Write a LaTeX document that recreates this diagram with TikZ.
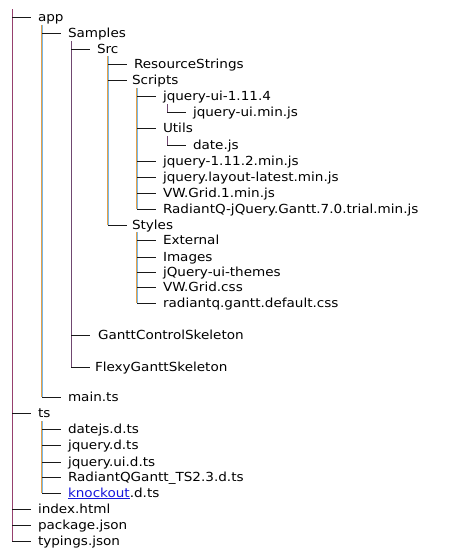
\documentclass[tikz,border=0pt]{standalone}
\usepackage{fontspec}
\setmainfont{DejaVu Sans}[FakeStretch=1.085]
\usetikzlibrary{positioning}

\definecolor{treemaroon}{RGB}{150,64,110}
\definecolor{treeplum}{RGB}{112,72,112}
\definecolor{treeorange}{RGB}{228,160,72}
\definecolor{treeblue}{RGB}{120,184,232}
\definecolor{linkblue}{RGB}{24,24,220}

\begin{document}
\begin{tikzpicture}[x=1pt,y=-1pt,
	entry/.style={anchor=west,inner xsep=7pt,inner ysep=0pt,outer sep=0pt,text height=10pt,text depth=2pt,font=\fontsize{12.5}{15}\selectfont},
	hline/.style={draw=black!90,line width=1pt},
	vmaroon/.style={draw=treemaroon,line width=1pt},
	vplum/.style={draw=treeplum,line width=1pt},
	vsplit/.style={preaction={draw=treeorange,line width=1pt,transform canvas={xshift=-0.5pt}},postaction={draw=treeblue,line width=1pt,transform canvas={xshift=0.5pt}}}]
	\path [fill=white] (0,0) rectangle (468,560);

	% columns of the tree
	\coordinate (root_col) at (12,9);
	\coordinate (app_col) at (42,25);
	\coordinate (samples_col) at (71,41);
	\coordinate (src_col) at (108,56);
	\coordinate (scripts_col) at (137,88);
	\coordinate (jqueryui_col) at (167,104);
	\coordinate (utils_col) at (167,136);
	\coordinate (styles_col) at (137,232);
	\coordinate (ts_col) at (42,421);

	\node [entry] at (31,17) (app) {app};
	\node [entry] at (61,33) (samples) {Samples};
	\node [entry] at (90,49) (src) {Src};
	\node [entry] at (127,64) (resstrings) {ResourceStrings};
	\node [entry,inner xsep=5pt] at (127,80) (scripts) {Scripts};
	\node [entry] at (156,96) (jqueryui) {jquery-ui-1.11.4};
	\node [entry] at (186,112) (jqueryuimin) {jquery-ui.min.js};
	\node [entry] at (156,128) (utils) {Utils};
	\node [entry] at (186,145) (datejs) {date.js};
	\node [entry] at (156,161) (jquerymin) {jquery-1.11.2.min.js};
	\node [entry] at (156,177) (jquerylayout) {jquery.layout-latest.min.js};
	\node [entry] at (156,193) (vwgridjs) {VW.Grid.1.min.js};
	\node [entry] at (156,209) (radiantqjs) {RadiantQ-jQuery.Gantt.7.0.trial.min.js};
	\node [entry,inner xsep=5pt] at (127,225) (styles) {Styles};
	\node [entry] at (156,240) (external) {External};
	\node [entry] at (156,257) (images) {Images};
	\node [entry] at (156,272) (jqthemes) {jQuery-ui-themes};
	\node [entry] at (156,287) (vwgridcss) {VW.Grid.css};
	\node [entry] at (156,303) (ganttcss) {radiantq.gantt.default.css};
	\node [entry,inner xsep=8pt] at (90,335) (ganttctrl) {GanttControlSkeleton};
	\node [entry,inner xsep=5pt] at (90,367) (flexygantt) {FlexyGanttSkeleton};
	\node [entry] at (61,397) (maints) {main.ts};
	\node [entry] at (31,413) (ts) {ts};
	\node [entry] at (61,429) (datejsdts) {datejs.d.ts};
	\node [entry] at (61,445) (jquerydts) {jquery.d.ts};
	\node [entry] at (61,462) (jqueryuidts) {jquery.ui.d.ts};
	\node [entry] at (61,477) (radiantqdts) {RadiantQGantt\_TS2.3.d.ts};
	\node [entry] at (61,493) (knockoutdts) {\textcolor{linkblue}{\underline{knockout}}.d.ts};
	\node [entry] at (31,509) (index) {index.html};
	\node [entry] at (31,525) (package) {package.json};
	\node [entry] at (31,541) (typings) {typings.json};

	% vertical lines
	\draw [vmaroon] (root_col) -- (root_col |- typings.west);
	\path [vsplit] (app_col) -- (app_col |- maints.west);
	\draw [vplum] (samples_col) -- (samples_col |- flexygantt.west);
	\path [vsplit] (src_col) -- (src_col |- styles.west);
	\path [vsplit] (scripts_col) -- (scripts_col |- radiantqjs.west);
	\draw [vplum] (jqueryui_col) -- (jqueryui_col |- jqueryuimin.west);
	\draw [vplum] (utils_col) -- (utils_col |- datejs.west);
	\path [vsplit] (styles_col) -- (styles_col |- ganttcss.west);
	\path [vsplit] (ts_col) -- (ts_col |- knockoutdts.west);

	% branches
	\foreach \n in {app,ts,index,package,typings}
		\draw [hline] (root_col |- \n.west) -- (\n.west);
	\foreach \n in {samples,maints}
		\draw [hline] (app_col |- \n.west) -- (\n.west);
	\foreach \n in {src,ganttctrl,flexygantt}
		\draw [hline] (samples_col |- \n.west) -- (\n.west);
	\foreach \n in {resstrings,scripts,styles}
		\draw [hline] (src_col |- \n.west) -- (\n.west);
	\foreach \n in {jqueryui,utils,jquerymin,jquerylayout,vwgridjs,radiantqjs}
		\draw [hline] (scripts_col |- \n.west) -- (\n.west);
	\draw [hline] (jqueryui_col |- jqueryuimin.west) -- (jqueryuimin.west);
	\draw [hline] (utils_col |- datejs.west) -- (datejs.west);
	\foreach \n in {external,images,jqthemes,vwgridcss,ganttcss}
		\draw [hline] (styles_col |- \n.west) -- (\n.west);
	\foreach \n in {datejsdts,jquerydts,jqueryuidts,radiantqdts,knockoutdts}
		\draw [hline] (ts_col |- \n.west) -- (\n.west);
\end{tikzpicture}
\end{document}
